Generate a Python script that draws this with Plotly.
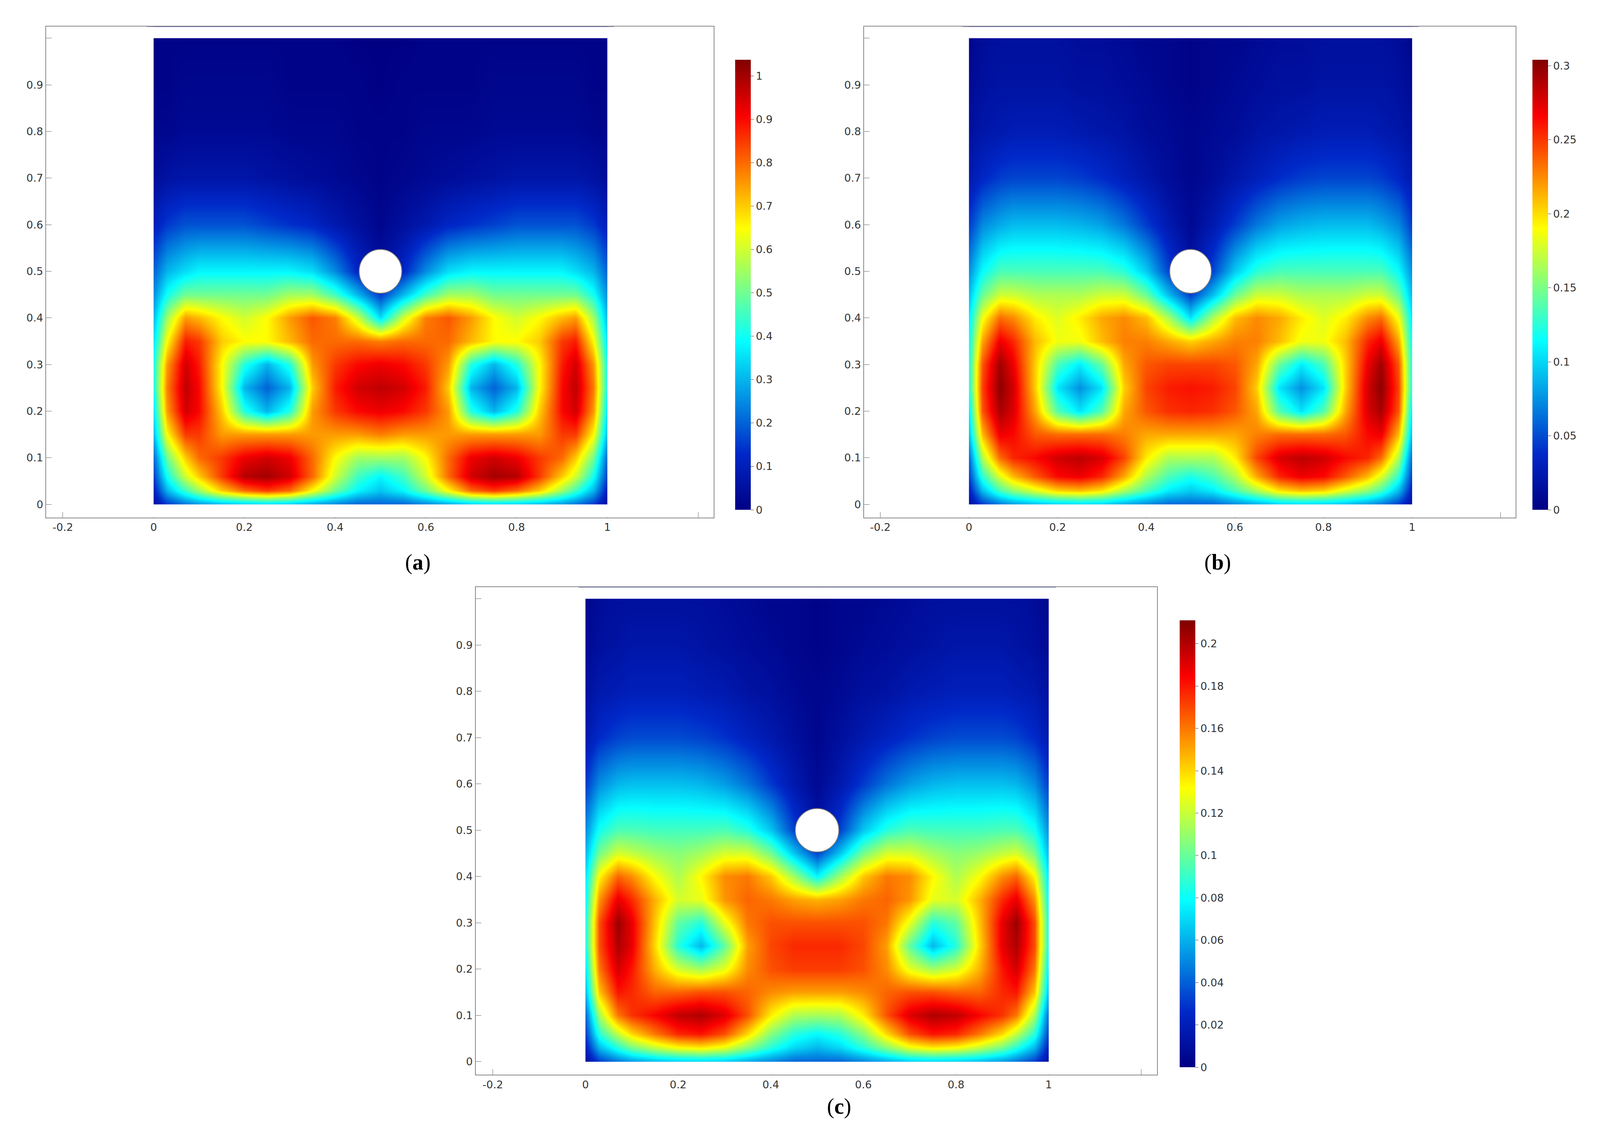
import plotly.graph_objects as go

# half of each field (x from 0 to 0.5), the right half mirrors it
x_half = [0, 0.03, 0.07, 0.1, 0.15, 0.2, 0.25, 0.3, 0.35, 0.4, 0.45, 0.5]
y_rows = [0, 0.03, 0.06, 0.1, 0.15, 0.2, 0.25, 0.3, 0.35, 0.4, 0.45, 0.5, 0.6, 0.7, 0.8, 0.9, 1.0]

field_a = [
    [0.05, 0.15, 0.22, 0.26, 0.3, 0.32, 0.33, 0.32, 0.28, 0.24, 0.2, 0.2],
    [0.1, 0.3, 0.45, 0.55, 0.7, 0.8, 0.85, 0.8, 0.65, 0.5, 0.38, 0.32],
    [0.15, 0.4, 0.6, 0.7, 0.85, 0.98, 1.0, 0.95, 0.8, 0.6, 0.45, 0.38],
    [0.2, 0.5, 0.7, 0.8, 0.85, 0.92, 0.95, 0.92, 0.8, 0.65, 0.55, 0.55],
    [0.3, 0.65, 0.85, 0.85, 0.75, 0.75, 0.75, 0.75, 0.75, 0.75, 0.75, 0.78],
    [0.35, 0.75, 0.95, 0.9, 0.7, 0.42, 0.3, 0.42, 0.75, 0.85, 0.9, 0.92],
    [0.4, 0.78, 0.97, 0.9, 0.65, 0.3, 0.2, 0.3, 0.7, 0.88, 0.95, 0.97],
    [0.4, 0.75, 0.95, 0.88, 0.65, 0.42, 0.3, 0.42, 0.75, 0.85, 0.9, 0.92],
    [0.35, 0.65, 0.88, 0.85, 0.7, 0.65, 0.65, 0.72, 0.8, 0.8, 0.8, 0.78],
    [0.3, 0.55, 0.75, 0.72, 0.65, 0.6, 0.65, 0.75, 0.82, 0.78, 0.6, 0.35],
    [0.25, 0.4, 0.5, 0.5, 0.5, 0.5, 0.5, 0.55, 0.55, 0.45, 0.3, 0.15],
    [0.2, 0.3, 0.35, 0.38, 0.38, 0.38, 0.38, 0.38, 0.35, 0.25, 0.12, 0.05],
    [0.1, 0.15, 0.18, 0.18, 0.18, 0.18, 0.16, 0.14, 0.12, 0.08, 0.05, 0.02],
    [0.04, 0.06, 0.07, 0.07, 0.07, 0.07, 0.06, 0.05, 0.04, 0.03, 0.02, 0.01],
    [0.02, 0.02, 0.03, 0.03, 0.03, 0.03, 0.03, 0.02, 0.02, 0.02, 0.01, 0.01],
    [0.01, 0.01, 0.02, 0.02, 0.02, 0.02, 0.02, 0.01, 0.01, 0.01, 0.01, 0.0],
    [0.01, 0.01, 0.01, 0.01, 0.01, 0.01, 0.01, 0.01, 0.01, 0.01, 0.0, 0.0],
]

field_b = [
    [0.05, 0.15, 0.22, 0.26, 0.3, 0.32, 0.33, 0.32, 0.28, 0.24, 0.2, 0.2],
    [0.1, 0.3, 0.45, 0.52, 0.6, 0.68, 0.7, 0.66, 0.55, 0.45, 0.36, 0.32],
    [0.15, 0.42, 0.6, 0.7, 0.8, 0.88, 0.9, 0.85, 0.72, 0.55, 0.45, 0.4],
    [0.2, 0.55, 0.78, 0.85, 0.88, 0.93, 0.95, 0.92, 0.82, 0.65, 0.55, 0.55],
    [0.3, 0.7, 0.9, 0.88, 0.8, 0.78, 0.78, 0.78, 0.76, 0.72, 0.72, 0.72],
    [0.35, 0.8, 0.97, 0.92, 0.72, 0.46, 0.35, 0.46, 0.72, 0.8, 0.84, 0.85],
    [0.4, 0.82, 1.0, 0.93, 0.68, 0.35, 0.25, 0.35, 0.68, 0.82, 0.86, 0.87],
    [0.4, 0.8, 0.98, 0.9, 0.68, 0.45, 0.36, 0.48, 0.72, 0.8, 0.82, 0.82],
    [0.38, 0.72, 0.9, 0.85, 0.7, 0.62, 0.62, 0.7, 0.76, 0.76, 0.72, 0.68],
    [0.35, 0.62, 0.78, 0.75, 0.65, 0.6, 0.65, 0.72, 0.75, 0.7, 0.55, 0.35],
    [0.3, 0.48, 0.58, 0.58, 0.55, 0.55, 0.55, 0.58, 0.58, 0.48, 0.3, 0.15],
    [0.25, 0.38, 0.45, 0.45, 0.45, 0.45, 0.45, 0.45, 0.42, 0.32, 0.16, 0.06],
    [0.15, 0.24, 0.28, 0.3, 0.3, 0.3, 0.29, 0.27, 0.22, 0.15, 0.08, 0.03],
    [0.08, 0.12, 0.15, 0.16, 0.16, 0.16, 0.15, 0.13, 0.1, 0.07, 0.04, 0.02],
    [0.05, 0.07, 0.08, 0.09, 0.09, 0.09, 0.08, 0.07, 0.06, 0.04, 0.03, 0.02],
    [0.03, 0.05, 0.06, 0.06, 0.06, 0.06, 0.05, 0.05, 0.04, 0.03, 0.02, 0.01],
    [0.02, 0.04, 0.05, 0.05, 0.05, 0.05, 0.04, 0.04, 0.03, 0.02, 0.02, 0.01],
]

field_c = [
    [0.05, 0.15, 0.22, 0.26, 0.3, 0.32, 0.33, 0.32, 0.28, 0.24, 0.2, 0.2],
    [0.1, 0.3, 0.42, 0.5, 0.58, 0.64, 0.66, 0.62, 0.52, 0.42, 0.34, 0.3],
    [0.15, 0.42, 0.58, 0.68, 0.78, 0.86, 0.88, 0.82, 0.68, 0.52, 0.42, 0.38],
    [0.2, 0.55, 0.78, 0.85, 0.9, 0.96, 0.98, 0.93, 0.82, 0.66, 0.56, 0.55],
    [0.3, 0.7, 0.88, 0.86, 0.8, 0.8, 0.82, 0.82, 0.8, 0.76, 0.74, 0.74],
    [0.35, 0.78, 0.94, 0.88, 0.72, 0.6, 0.55, 0.62, 0.76, 0.82, 0.84, 0.84],
    [0.4, 0.82, 0.98, 0.92, 0.68, 0.42, 0.3, 0.48, 0.74, 0.83, 0.86, 0.86],
    [0.4, 0.82, 1.0, 0.92, 0.7, 0.48, 0.42, 0.62, 0.78, 0.82, 0.82, 0.82],
    [0.38, 0.75, 0.92, 0.86, 0.72, 0.6, 0.62, 0.75, 0.8, 0.78, 0.74, 0.72],
    [0.35, 0.65, 0.8, 0.76, 0.64, 0.56, 0.65, 0.76, 0.78, 0.7, 0.55, 0.38],
    [0.3, 0.5, 0.6, 0.58, 0.54, 0.52, 0.55, 0.6, 0.6, 0.5, 0.32, 0.16],
    [0.25, 0.4, 0.46, 0.46, 0.45, 0.45, 0.45, 0.46, 0.42, 0.32, 0.16, 0.06],
    [0.15, 0.25, 0.3, 0.31, 0.31, 0.31, 0.3, 0.27, 0.22, 0.15, 0.08, 0.03],
    [0.08, 0.13, 0.16, 0.17, 0.17, 0.17, 0.16, 0.14, 0.11, 0.08, 0.05, 0.02],
    [0.05, 0.08, 0.09, 0.1, 0.1, 0.1, 0.09, 0.08, 0.06, 0.05, 0.03, 0.02],
    [0.03, 0.05, 0.06, 0.07, 0.07, 0.07, 0.06, 0.05, 0.04, 0.03, 0.02, 0.01],
    [0.02, 0.04, 0.05, 0.05, 0.05, 0.05, 0.05, 0.04, 0.03, 0.02, 0.02, 0.01],
]

peaks = [1.0, 0.3, 0.205]
cmax = [1.037, 0.304, 0.211]
cticks = [
    [round(0.1 * i, 1) for i in range(11)],
    [0, 0.05, 0.1, 0.15, 0.2, 0.25, 0.3],
    [round(0.02 * i, 2) for i in range(11)],
]
panel_labels = ["a", "b", "c"]

x_full = x_half + [round(1 - v, 2) for v in reversed(x_half[:-1])]


def mirror(field, peak):
    return [[v * peak for v in row + row[-2::-1]] for row in field]


jet = [[0, "rgb(0,0,131)"], [0.125, "rgb(0,40,200)"], [0.375, "rgb(5,255,255)"],
       [0.625, "rgb(255,255,0)"], [0.875, "rgb(250,0,0)"], [1, "rgb(128,0,0)"]]

# panel positions in paper coords
domains = [
    dict(x=[0.0257, 0.425], y=[0.550, 0.9795], cb=(0.438, 0.5567, 0.9504), lab=(0.24, 0.5106)),
    dict(x=[0.515, 0.905], y=[0.550, 0.9795], cb=(0.915, 0.5567, 0.9504), lab=(0.735, 0.5106)),
    dict(x=[0.2827, 0.6904], y=[0.0625, 0.489], cb=(0.704, 0.069, 0.460), lab=(0.5, 0.0232)),
]

fig = go.Figure()
tickfont = dict(family="DejaVu Sans", size=27, color="#333")
shapes, annotations = [], []

for i, field in enumerate([field_a, field_b, field_c]):
    n = "" if i == 0 else str(i + 1)
    d = domains[i]
    cbx, cby0, cby1 = d["cb"]
    fig.add_trace(go.Heatmap(
        x=x_full, y=y_rows, z=mirror(field, peaks[i]),
        zmin=0, zmax=cmax[i], colorscale=jet, zsmooth="best",
        xaxis="x" + n, yaxis="y" + n,
        colorbar=dict(x=cbx, xanchor="left", y=cby0, yanchor="bottom",
                      len=cby1 - cby0, lenmode="fraction", thickness=40,
                      xpad=0, ypad=0, outlinewidth=0, tickvals=cticks[i],
                      ticks="outside", ticklen=8, tickfont=tickfont),
    ))
    axis = dict(showline=True, linecolor="#888", linewidth=2, mirror=True,
                ticks="inside", ticklen=14, tickcolor="#666", showgrid=False,
                zeroline=False, tickfont=tickfont)
    fig.update_layout(**{
        "xaxis" + n: dict(axis, domain=d["x"], range=[-0.237, 1.234],
                          tickvals=[-0.2, 0, 0.2, 0.4, 0.6, 0.8, 1, 1.2],
                          ticktext=["-0.2", "0", "0.2", "0.4", "0.6", "0.8", "1", ""],
                          anchor="y" + n),
        "yaxis" + n: dict(axis, domain=d["y"], range=[-0.028, 1.025],
                          tickvals=[round(0.1 * k, 1) for k in range(11)],
                          ticktext=[str(round(0.1 * k, 1)) if k else "0" for k in range(10)] + [""],
                          anchor="x" + n),
    })
    # trim the half-cell overhang of the heatmap outside the unit square
    for rect in [(-0.1, 0, -0.0272, 1.0244), (1, 1.1, -0.0272, 1.0244),
                 (-0.1, 1.1, -0.0272, 0), (-0.1, 1.1, 1, 1.0244)]:
        shapes.append(dict(type="rect", xref="x" + n, yref="y" + n, layer="above",
                           x0=rect[0], x1=rect[1], y0=rect[2], y1=rect[3],
                           fillcolor="white", line=dict(width=0)))
    shapes.append(dict(type="circle", xref="x" + n, yref="y" + n,
                       x0=0.453, x1=0.547, y0=0.453, y1=0.547,
                       fillcolor="white", line=dict(color="#777", width=2)))
    annotations.append(dict(text="(<b>%s</b>)" % panel_labels[i], x=d["lab"][0], y=d["lab"][1],
                            xref="paper", yref="paper", showarrow=False,
                            font=dict(family="Liberation Serif", size=56, color="black")))

fig.update_layout(width=4279, height=2926, margin=dict(l=0, r=0, t=0, b=0),
                  paper_bgcolor="white", plot_bgcolor="white",
                  shapes=shapes, annotations=annotations, showlegend=False)

fig.write_html("out.html")
